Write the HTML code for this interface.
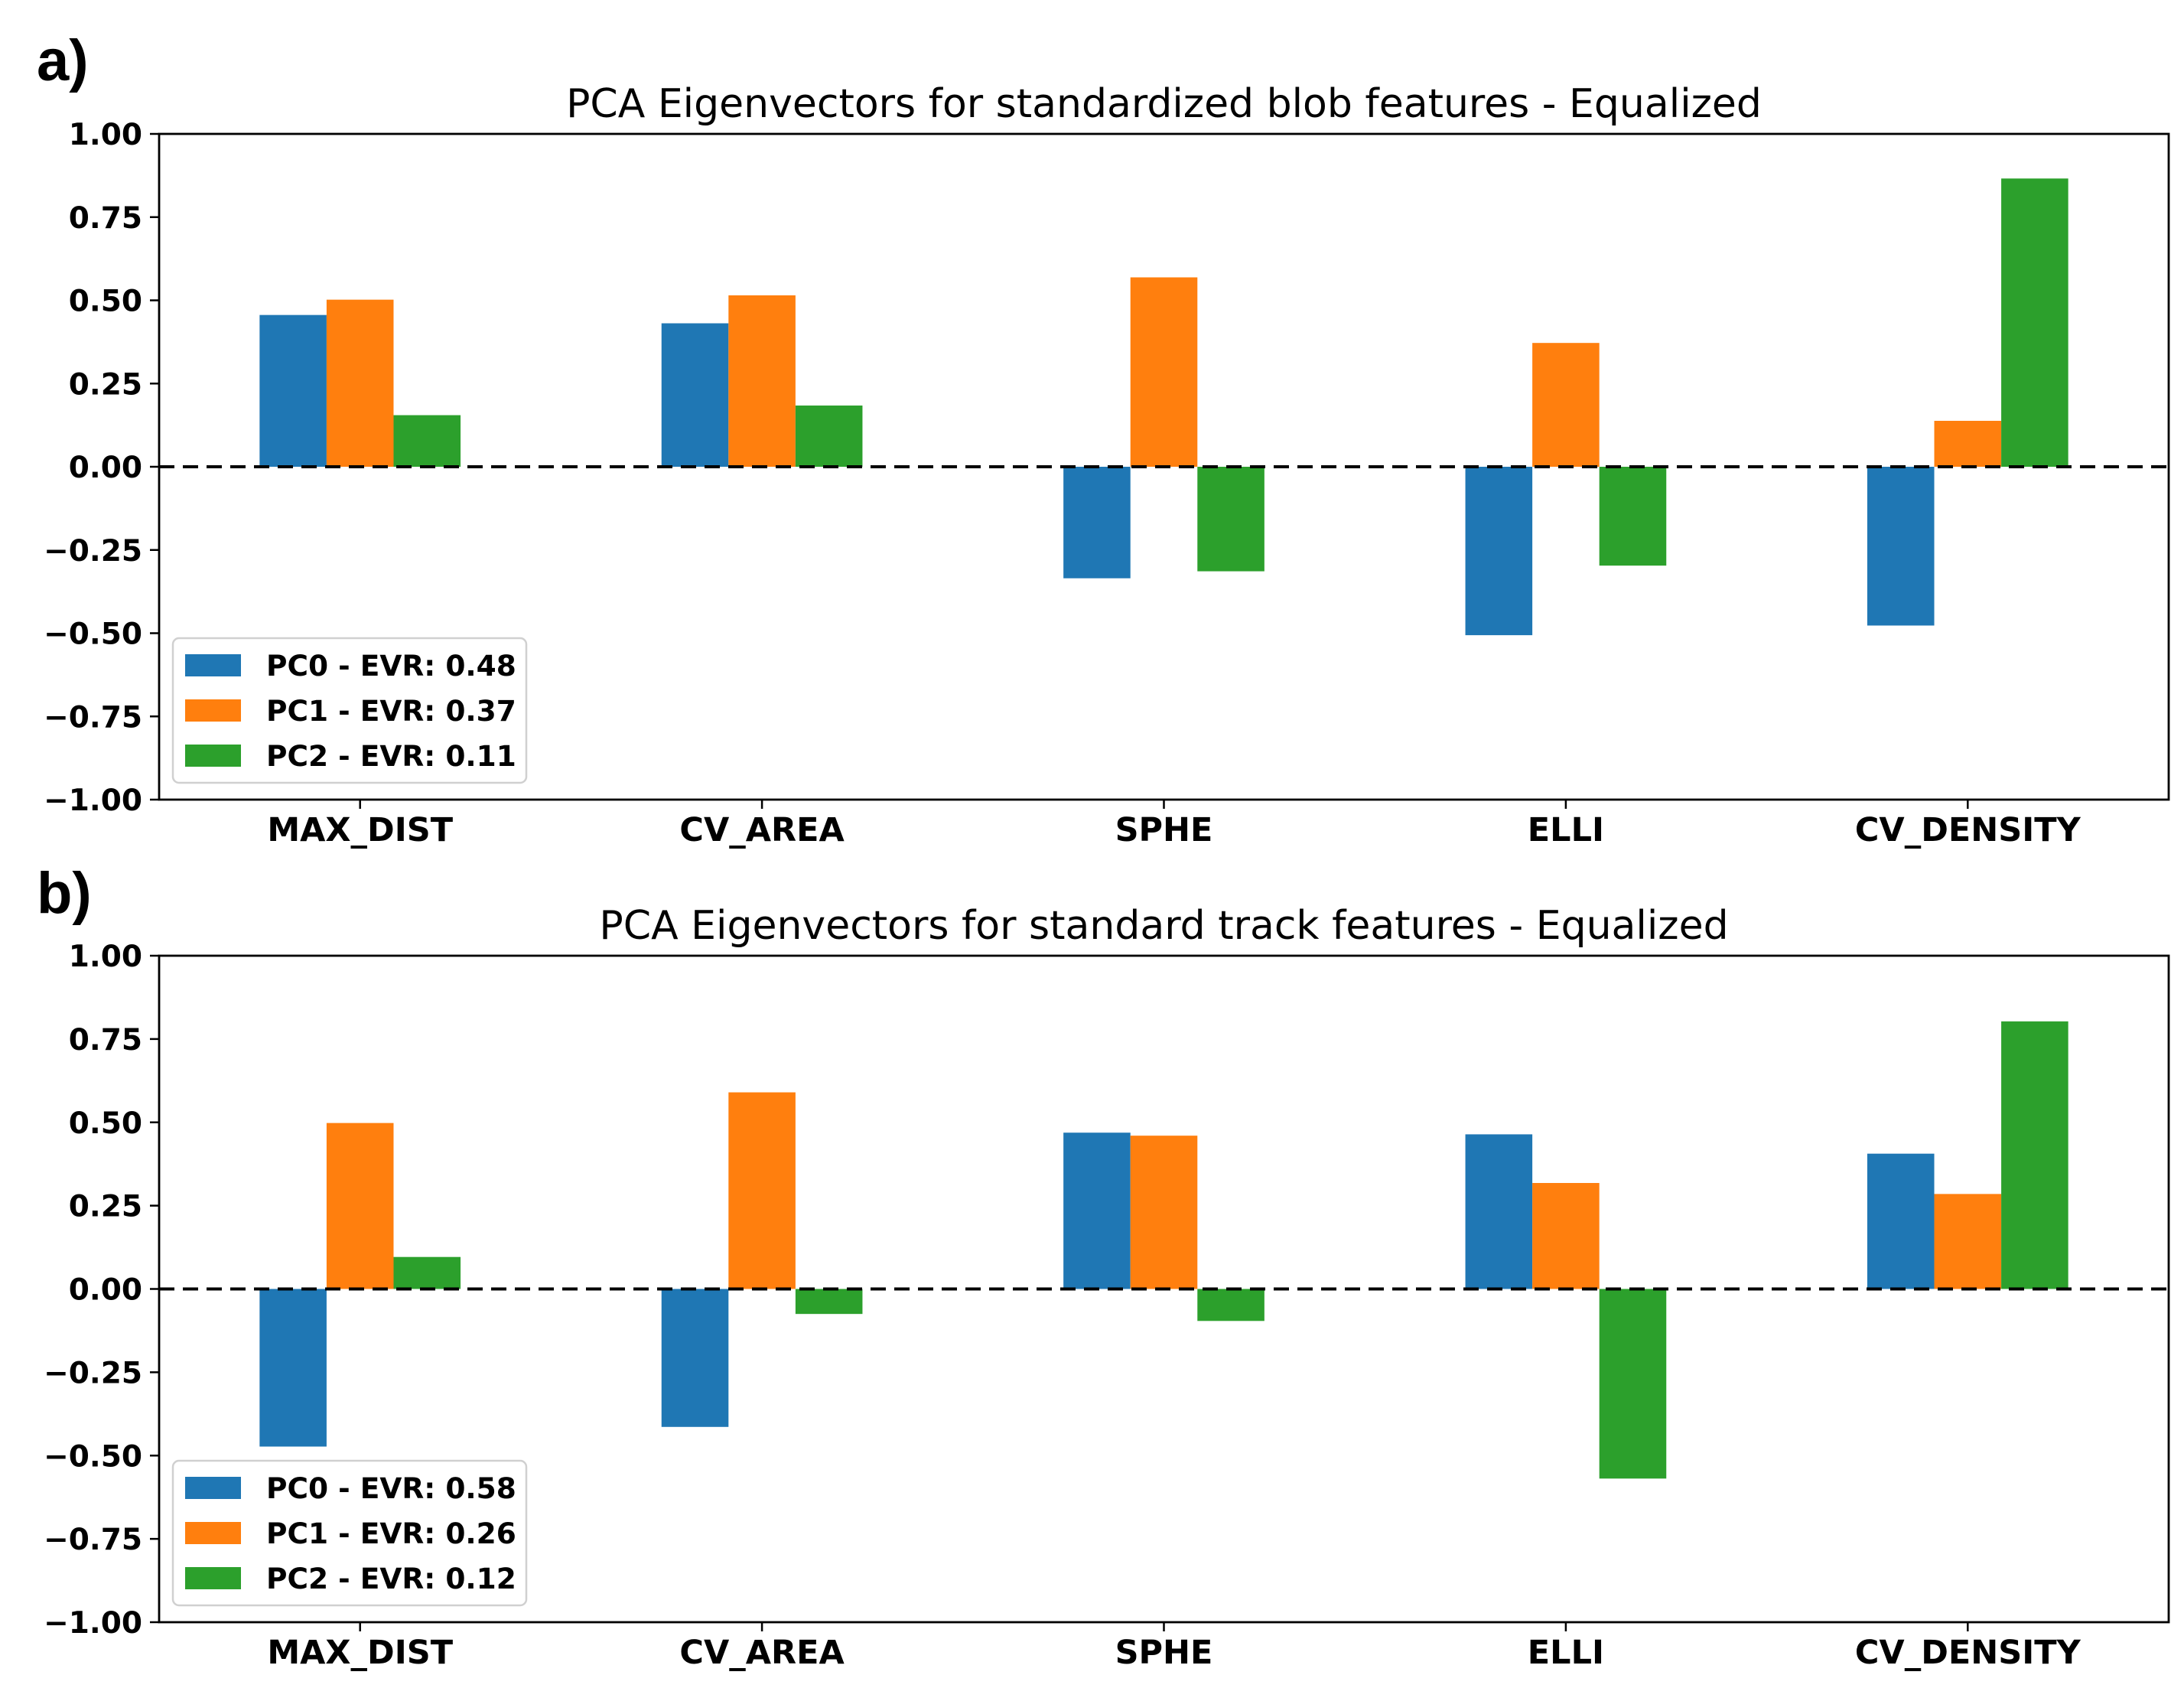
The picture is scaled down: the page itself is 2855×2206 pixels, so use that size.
<!DOCTYPE html>
<html><head><meta charset="utf-8"><style>
html,body{margin:0;padding:0;background:#fff;}
svg{display:block;}
</style></head><body>
<svg id="fig" width="2855" height="2206" viewBox="0 0 2855 2206" xmlns="http://www.w3.org/2000/svg"></svg>
<script>
const categories = ["MAX_DIST","CV_AREA","SPHE","ELLI","CV_DENSITY"];
const yTicks = [1.00,0.75,0.50,0.25,0.00,-0.25,-0.50,-0.75,-1.00];
const seriesNames = ["PC0","PC1","PC2"];
const colors = ["#1f77b4","#ff7f0e","#2ca02c"];
const titleA = "PCA Eigenvectors for standardized blob features - Equalized";
const titleB = "PCA Eigenvectors for standard track features - Equalized";
const evrA = [0.48,0.37,0.11];
const evrB = [0.58,0.26,0.12];
const pc0A = [0.456,0.431,-0.335,-0.506,-0.477];
const pc1A = [0.502,0.515,0.569,0.372,0.138];
const pc2A = [0.155,0.184,-0.314,-0.297,0.866];
const pc0B = [-0.473,-0.414,0.469,0.464,0.406];
const pc1B = [0.498,0.590,0.460,0.318,0.285];
const pc2B = [0.096,-0.075,-0.096,-0.569,0.803];

const NS = "http://www.w3.org/2000/svg";
const svg = document.getElementById('fig');
function mk(tag, attrs, parent){
  const e = document.createElementNS(NS, tag);
  for (const k in attrs) e.setAttribute(k, attrs[k]);
  (parent||svg).appendChild(e);
  return e;
}
const L = 208, R = 2835;
function drawPanel(top, bottom, label, labelY, title, evr, series, key){
  const g = mk('g', {});
  
  
  const yScale = v => top + (1 - v) / 2 * (bottom - top);
  const unit = (R - L) / 5;
  const xScale = i => L + (i + 0.5) * unit;
  const bw = unit / 6;
  const pl = mk('text', {x:48, y:labelY, 'font-family':'"Liberation Sans", sans-serif', 'font-weight':'bold', 'font-size':76, fill:'#000'}, g);
  pl.textContent = label;
  
  
  const t = mk('text', {x:(L+R)/2, y:top-22, 'text-anchor':'middle', 'font-family':'"DejaVu Sans", sans-serif', 'font-size':52, fill:'#000'}, g);
  t.textContent = title;
  
  
  series.forEach((vals, s) => {
    vals.forEach((v, i) => {
      const cx = xScale(i) + (s - 1) * bw;
      const y0 = yScale(0), y1 = yScale(v);
      const r = mk('rect', {x:cx - bw/2, y:Math.min(y0,y1), width:bw, height:Math.abs(y1-y0), fill:colors[s]}, g);
      
      
    });
  });
  const zl = mk('line', {x1:L, x2:R, y1:yScale(0), y2:yScale(0), stroke:'#000', 'stroke-width':4, 'stroke-dasharray':'20 11'}, g);
  
  
  const fr = mk('rect', {x:L, y:top, width:R-L, height:bottom-top, fill:'none', stroke:'#000', 'stroke-width':2.8}, g);
  
  
  yTicks.forEach(v => {
    const y = yScale(v);
    const tk = mk('line', {x1:L-12, x2:L, y1:y, y2:y, stroke:'#000', 'stroke-width':2.5}, g);
    
    
    const tl = mk('text', {x:L-22, y:y+14, 'text-anchor':'end', 'font-family':'"DejaVu Sans", sans-serif', 'font-weight':'bold', 'font-size':39, fill:'#000'}, g);
    tl.textContent = (v < 0 ? '\u2212' : '') + Math.abs(v).toFixed(2);
    
    
  });
  categories.forEach((c, i) => {
    const x = xScale(i);
    const tk = mk('line', {x1:x, x2:x, y1:bottom, y2:bottom+12, stroke:'#000', 'stroke-width':2.5}, g);
    
    
    const tl = mk('text', {x:x, y:bottom+54, 'text-anchor':'middle', 'font-family':'"DejaVu Sans", sans-serif', 'font-weight':'bold', 'font-size':43, fill:'#000'}, g);
    tl.textContent = c;
    
    
  });
  const lg = mk('g', {}, g);
  
  
  const ly = bottom - 211;
  mk('rect', {x:226, y:ly, width:462, height:189, rx:8, fill:'#fff', 'fill-opacity':0.8, stroke:'#d0d0d0', 'stroke-width':2.5}, lg);
  evr.forEach((e, s) => {
    const cy = ly + 35 + s * 59;
    const ent = mk('g', {}, lg);
    
    
    mk('rect', {x:242, y:cy-14, width:73, height:29, fill:colors[s]}, ent);
    const tx = mk('text', {x:348, y:cy+14, 'font-family':'"DejaVu Sans", sans-serif', 'font-weight':'bold', 'font-size':37.5, fill:'#000'}, ent);
    tx.textContent = seriesNames[s] + ' - EVR: ' + e.toFixed(2);
  });
}
drawPanel(175, 1045, 'a)', 105, titleA, evrA, [pc0A, pc1A, pc2A], 'a');
drawPanel(1249, 2120, 'b)', 1193, titleB, evrB, [pc0B, pc1B, pc2B], 'b');
</script>
</body></html>
